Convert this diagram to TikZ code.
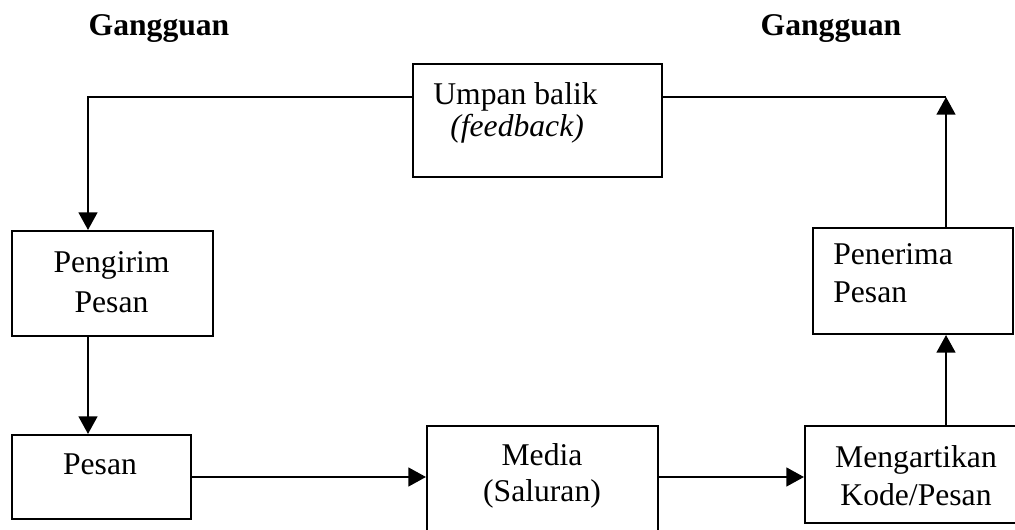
\documentclass[tikz,border=0pt]{standalone}
\usepackage{fontspec}
\setmainfont{Liberation Serif}
\usetikzlibrary{arrows.meta}

\tikzset{
    kotak/.style={draw=black, line width=1.1pt, inner sep=0pt},
    teks/.style={inner sep=0pt, font=\fontsize{18}{22.8}\selectfont},
    panah/.style={line width=1.6pt, -{Triangle[length=10pt,width=10.5pt]}},
    garis/.style={line width=1.6pt}
}

\begin{document}
\begin{tikzpicture}
                \useasboundingbox (0,0) rectangle (20.3,10.6);
                \coordinate (kiri) at (1.76,8.66);
                \coordinate (kanan) at (18.92,8.66);

                \node[kotak, minimum width=4.98cm, minimum height=2.26cm] (umpan) at (10.75,8.19) {};
                \node[kotak, minimum width=4.02cm, minimum height=2.10cm] (pengirim) at (2.25,4.93) {};
                \node[kotak, minimum width=3.58cm, minimum height=1.68cm] (pesan) at (2.03,1.06) {};
                \node[kotak, minimum width=4.62cm, minimum height=2.60cm] (media) at (10.85,0.78) {};
                \node[kotak, minimum width=5.00cm, minimum height=1.94cm] (mengartikan) at (18.60,1.11) {};
                \node[kotak, minimum width=4.00cm, minimum height=2.12cm] (penerima) at (18.26,4.98) {};

                \node[teks, anchor=base] (ganggu1) at (3.18,9.88) {\textbf{Gangguan}};
                \node[teks, anchor=base] (ganggu2) at (16.62,9.88) {\textbf{Gangguan}};
                \node[teks, anchor=west, align=left] (tumpan) at (8.66,8.34)
                    {Umpan balik\\[-4.6pt]\hspace*{0.34cm}\textit{(feedback)}};
                \node[teks, align=center] (tpengirim) at (2.23,4.96) {Pengirim\\Pesan};
                \node[teks, anchor=base] (tpesan) at (2.00,1.10) {Pesan};
                \node[teks, align=center] (tmedia) at (10.84,1.08) {Media\\[-2.3pt](Saluran)};
                \node[teks, align=center] (tmengartikan) at (18.32,1.09) {Mengartikan\\[-1.1pt]Kode/Pesan};
                \node[teks, anchor=west, align=left] (tpenerima) at (16.66,5.14) {Penerima\\[-1.1pt]Pesan};

                % alur pesan
                \draw[panah] (pengirim.south -| kiri) -- (pesan.north -| kiri);
                \draw[panah] (pesan.east) -- (pesan.east -| media.west);
                \draw[panah] (media.east |- pesan.east) -- (mengartikan.west |- pesan.east);
                \draw[panah] (mengartikan.north -| kanan) -- (penerima.south -| kanan);

                % umpan balik
                \draw[panah] (penerima.north -| kanan) -- (kanan);
                \draw[garis] (umpan.east |- kanan) -- (kanan);
                \draw[panah] (umpan.west |- kiri) -- (kiri) -- (pengirim.north -| kiri);
            \end{tikzpicture}
\end{document}
